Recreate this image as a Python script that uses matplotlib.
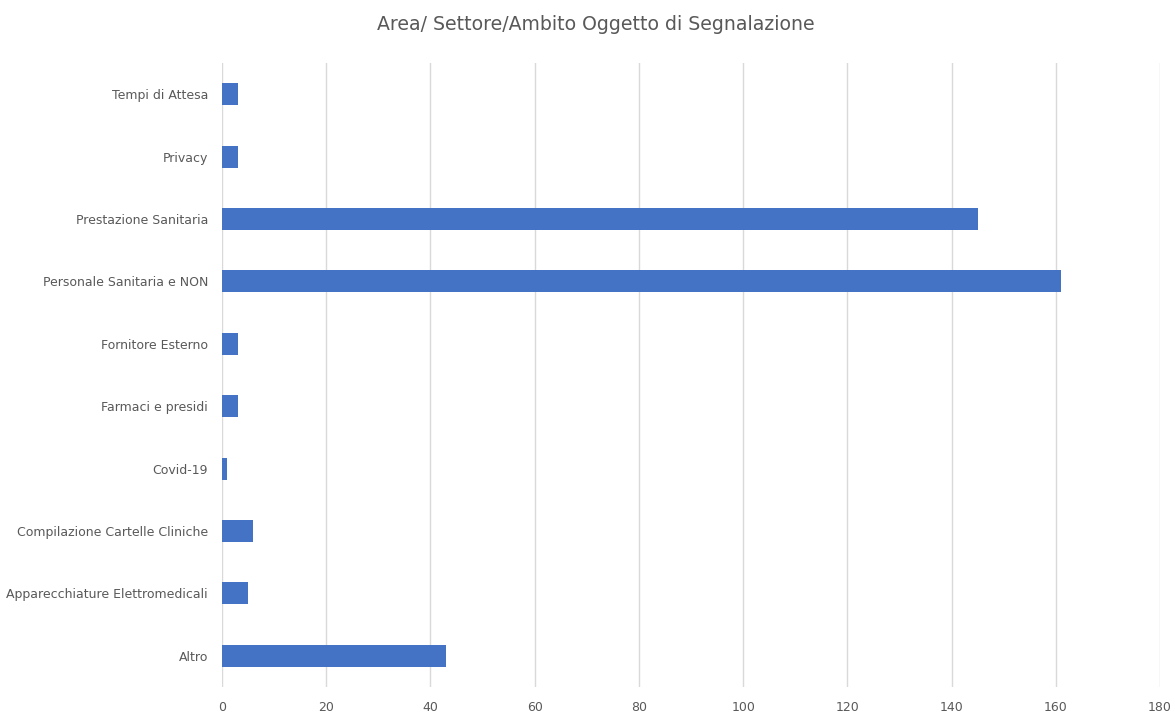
import matplotlib
matplotlib.use("Agg")
from matplotlib import pyplot as plt
import numpy as np

categories = ["Altro", "Apparecchiature Elettromedicali", "Compilazione Cartelle Cliniche",
              "Covid-19", "Farmaci e presidi", "Fornitore Esterno",
              "Personale Sanitaria e NON", "Prestazione Sanitaria", "Privacy", "Tempi di Attesa"]
counts = [43, 5, 6, 1, 3, 3, 161, 145, 3, 3]
xticks = [0, 20, 40, 60, 80, 100, 120, 140, 160, 180]

plt.rcParams['font.family'] = ['Liberation Sans Narrow', 'DejaVu Sans']
grey = "#595959"

fig = plt.figure(figsize=(11.75, 7.14), dpi=100)
ax = fig.add_axes([222/1175, 1 - 687/714, (1160-222)/1175, (687-63)/714])

y = np.arange(len(categories))
ax.barh(y, counts, height=0.35, color="#4472C4", zorder=3)

ax.set_xlim(0, 180)
ax.set_ylim(-0.5, len(categories) - 0.5)
ax.set_xticks(xticks)
ax.set_yticks(y)
ax.set_yticklabels(categories)
ax.grid(axis="x", color="#D9D9D9", linewidth=1, zorder=0)
for s in ax.spines.values():
    s.set_visible(False)
ax.tick_params(axis="both", length=0, colors=grey, labelsize=9)
ax.tick_params(axis="x", pad=10)
ax.tick_params(axis="y", pad=10)

fig.text(596/1175, 1 - 25/714, "Area/ Settore/Ambito Oggetto di Segnalazione",
         ha="center", va="center", fontsize=13.6, color=grey)

plt.savefig("out.png", dpi=100)
